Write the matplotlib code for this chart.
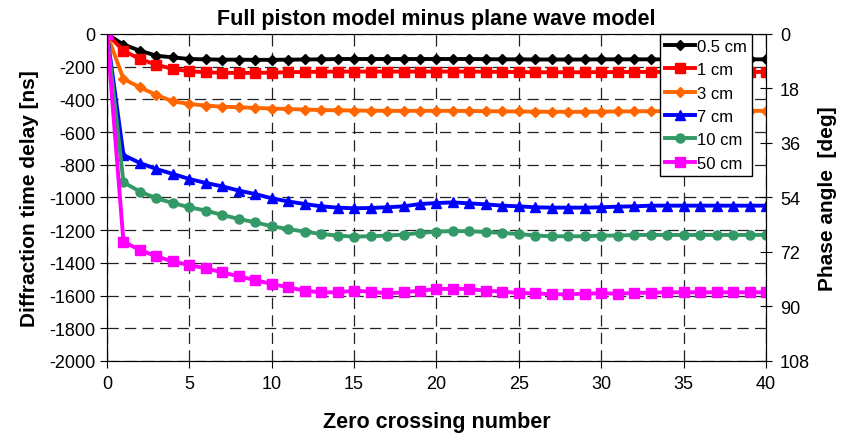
import numpy as np
import matplotlib.pyplot as plt

plt.rcParams['font.family'] = ['Liberation Sans', 'DejaVu Sans']
plt.rcParams['axes.unicode_minus'] = False

zc = np.arange(41)

d05 = [0, -65, -102, -133, -143, -153, -155, -157, -157, -158, -158,
       -157, -156, -155, -153, -153, -153, -153, -153, -153, -153,
       -153, -153, -154, -155, -155, -156, -156, -156, -156, -155,
       -155, -155, -155, -155, -155, -155, -155, -155, -155, -155]
d1 = [0, -102, -153, -188, -214, -228, -234, -238, -238, -238, -236,
      -234, -232, -231, -230, -230, -230, -230, -230, -230, -230,
      -230, -230, -231, -232, -233, -234, -234, -234, -234, -233,
      -233, -232, -232, -232, -232, -232, -232, -232, -232, -232]
d3 = [0, -275, -326, -373, -412, -428, -438, -445, -448, -452, -456,
      -459, -462, -465, -467, -468, -469, -470, -470, -470, -470,
      -470, -471, -472, -473, -474, -475, -476, -476, -476, -475,
      -474, -473, -472, -472, -471, -471, -470, -470, -470, -470]
d7 = [0, -740, -789, -826, -856, -887, -911, -932, -958, -979, -1005,
      -1024, -1040, -1054, -1062, -1066, -1064, -1060, -1054, -1040, -1034,
      -1030, -1036, -1042, -1050, -1054, -1060, -1062, -1062, -1062, -1060,
      -1056, -1054, -1050, -1050, -1050, -1050, -1050, -1050, -1050, -1050]
d10 = [0, -907, -964, -1005, -1034, -1060, -1080, -1107, -1131, -1152, -1176,
       -1193, -1209, -1223, -1233, -1239, -1237, -1233, -1227, -1217, -1209,
       -1205, -1207, -1211, -1217, -1223, -1233, -1237, -1237, -1237, -1233,
       -1233, -1229, -1229, -1229, -1229, -1229, -1229, -1229, -1229, -1229]
d50 = [0, -1270, -1321, -1360, -1391, -1413, -1433, -1458, -1482, -1505, -1529,
       -1549, -1570, -1580, -1580, -1570, -1576, -1586, -1580, -1570, -1560,
       -1558, -1560, -1570, -1576, -1584, -1586, -1592, -1592, -1588, -1586,
       -1588, -1584, -1582, -1580, -1580, -1580, -1580, -1580, -1580, -1580]

series = [
    (d05, '0.5 cm', 'black', 'D', 5),
    (d1, '1 cm', '#ff0000', 's', 7),
    (d3, '3 cm', '#ff6600', 'D', 5),
    (d7, '7 cm', '#0000ff', '^', 7),
    (d10, '10 cm', '#339966', 'o', 6.5),
    (d50, '50 cm', '#ff00ff', 's', 7),
]

fig = plt.figure(figsize=(8.45, 4.39), dpi=100)
ax = fig.add_axes([0.1266, 0.1754, 0.7799, 0.7449])

for vals, lab, col, mk, ms in series:
    ax.plot(zc, vals, color=col, marker=mk, markersize=ms, lw=2.8, label=lab)

ax.set_xlim(0, 40)
ax.set_ylim(-2000, 0)
ax.set_xticks(np.arange(0, 41, 5))
ax.set_yticks(np.arange(-2000, 1, 200))
ax.grid(True, color='#222222', linestyle=(0, (9, 5)), lw=0.9)
ax.tick_params(labelsize=13, length=5, pad=3)
ax.tick_params(axis='x', pad=5)
ax.set_xlabel('Zero crossing number', fontsize=15.5, fontweight='bold', labelpad=14)
ax.set_ylabel('Diffraction time delay [ns]', fontsize=15, fontweight='bold', labelpad=8)
ax.set_title('Full piston model minus plane wave model', fontsize=15.5, fontweight='bold', pad=7)
ax.spines['top'].set_color('#999999')
ax.spines['bottom'].set_color('#444444')

ax2 = ax.twinx()
ax2.set_ylim(108, 0)
ax2.set_yticks(np.arange(0, 109, 18))
ax2.tick_params(labelsize=13, direction='inout', length=8, pad=6)
ax2.set_ylabel('Phase angle  [deg]', fontsize=15, fontweight='bold', labelpad=6)

leg = ax.legend(loc='upper right', bbox_to_anchor=(0.979, 1.0), fontsize=12,
                frameon=True, fancybox=False, edgecolor='black', framealpha=1,
                borderaxespad=0, handlelength=1.8, handletextpad=0.15,
                labelspacing=0.5, borderpad=0.3)
leg.get_frame().set_linewidth(1.0)

fig.savefig('out.png', dpi=100)
